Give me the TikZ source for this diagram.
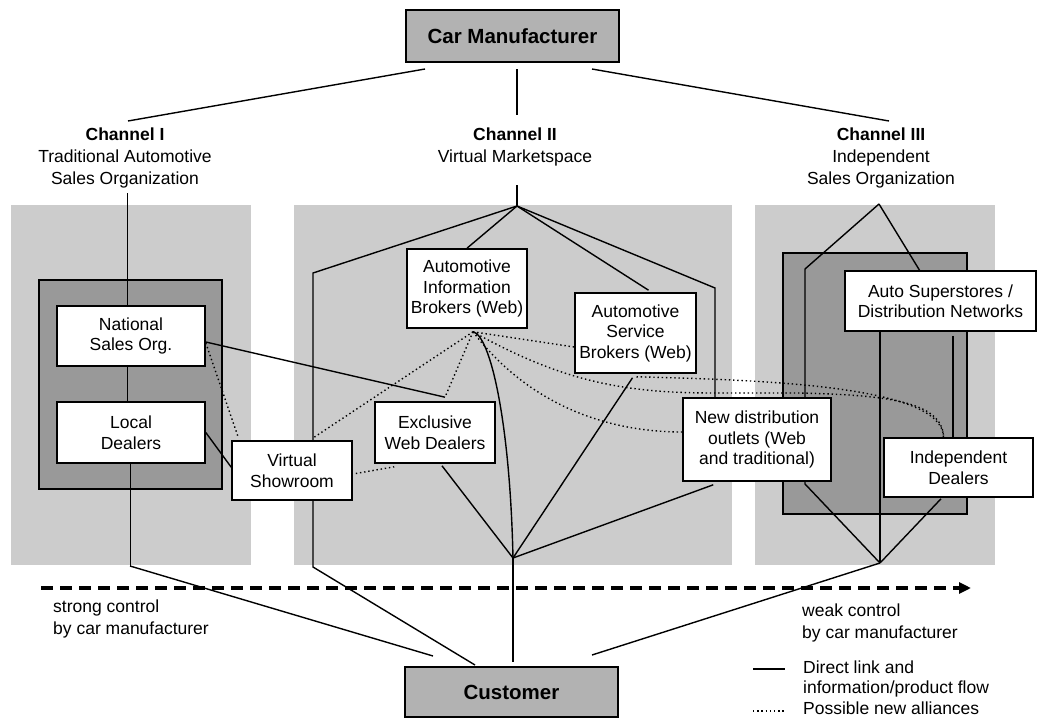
\documentclass[tikz,border=0pt]{standalone}
\usepackage{fontspec}
\setmainfont{Liberation Sans}
\usetikzlibrary{calc,arrows.meta}
\tikzset{>=stealth,
  panel/.style={fill=black!20},
  darkbox/.style={fill=black!40,draw=black,line width=1.6pt},
  box/.style={draw,fill=white,line width=1.6pt,align=center,inner sep=1pt,
    font=\fontsize{17.5}{20.5}\selectfont},
  titlebox/.style={draw,fill=black!30,line width=1.6pt,inner sep=1pt,
    font=\fontsize{20.5}{24}\selectfont\bfseries,minimum width=213pt},
  link/.style={line width=1.4pt},
  thinlink/.style={line width=1pt},
  alliance/.style={line width=1.4pt,dash pattern=on 1.4pt off 2.8pt},
  lbl/.style={align=center,inner sep=0pt,font=\fontsize{17.5}{22}\selectfont}
}

\begin{document}
\begin{tikzpicture}[x=1pt,y=-1pt]
  \useasboundingbox (0,0) rectangle (1037,720);

  \fill[panel] (11,205) rectangle (251,565);
  \fill[panel] (294,205) rectangle (732,565);
  \fill[panel] (755,205) rectangle (995,565);
  \filldraw[darkbox] (39,280) rectangle (222,489);
  \filldraw[darkbox] (783,253) rectangle (967,514);

  \coordinate (m1) at (425,69);  \coordinate (t1) at (128,121);
  \coordinate (m2) at (517,69);  \coordinate (t2) at (517,115);
  \coordinate (m3) at (592,69);  \coordinate (t3) at (889,121);
  \coordinate (c1) at (127,193); \coordinate (l1b) at (130,566);
  \coordinate (c2) at (517,185); \coordinate (h2) at (517,206);
  \coordinate (h2b) at (513,558);
  \coordinate (b2a) at (313,273); \coordinate (b2b) at (313,567);
  \coordinate (b2r) at (715,288);
  \coordinate (h3) at (879,204); \coordinate (h3b) at (880,563);
  \coordinate (b3a) at (805,269); \coordinate (b3b) at (805,484);
  \coordinate (e1) at (433,656); \coordinate (e2) at (475,665);
  \coordinate (e3) at (513,662); \coordinate (e4) at (592,655);

  % lines running behind the boxes
  \draw[link] (h2) -- (b2a) -- (b2b) -- (e2);
  \draw[link] (h3) -- (b3a) -- (b3b) -- (h3b);

  \node[titlebox,minimum height=52pt] (mfr) at (512.5,36) {Car Manufacturer};
  \node[titlebox,minimum height=50pt] (cust) at (511.5,692) {Customer};

  \node[lbl] (ch1) at (125,158) {\textbf{Channel I}\\Traditional Automotive\\Sales Organization};
  \node[lbl] (ch2) at (515,147) {\textbf{Channel II}\\Virtual Marketspace};
  \node[lbl] (ch3) at (881,158) {\textbf{Channel III}\\Independent\\Sales Organization};

  \node[box,minimum width=148pt,minimum height=60pt] (nat) at (131,336) {National\\Sales Org.};
  \node[box,minimum width=148pt,minimum height=61pt] (loc) at (131,432.5) {Local\\Dealers};
  \node[box,minimum width=120pt,minimum height=59pt] (vs) at (292,470.5) {Virtual\\Showroom};
  \node[box,minimum width=120pt,minimum height=79pt] (aib) at (467,288.5) {Automotive\\Information\\Brokers (Web)};
  \node[box,minimum width=120pt,minimum height=61pt] (ewd) at (435,432.5) {Exclusive\\Web Dealers};
  \node[box,minimum width=121pt,minimum height=80pt] (asb) at (635.5,333) {Automotive\\Service\\Brokers (Web)};
  \node[box,minimum width=148pt,minimum height=83pt] (ndo) at (757,439.5) {New distribution\\outlets (Web\\and traditional)};
  \node[box,minimum width=191pt,minimum height=60pt] (asdn) at (940.5,301) {Auto Superstores /\\Distribution Networks};
  \node[box,minimum width=149pt,minimum height=59pt] (ind) at (958.5,467.5) {Independent\\Dealers};

  \coordinate (p) at ($(aib.south)+(6,3)$);
  \coordinate (ewdtop) at ($(ewd.north)+(10,-4)$);
  \coordinate (indt) at ($(ind.north)+(-15,0)$);
  \coordinate (vsd) at (313,438);

  \draw[link] (m1) -- (t1);
  \draw[link] (m2) -- (t2);
  \draw[link] (m3) -- (t3);

  \draw[thinlink] (c1) -- (nat.north -| c1);
  \draw[thinlink] (nat.south -| c1) -- (loc.north -| c1);
  \draw[thinlink] (loc.south -| l1b) -- (l1b);
  \draw[link] (l1b) -- (e1);
  \draw[link] (loc.east) -- ($(vs.north west)+(0,27)$);
  \draw[link] ($(nat.east)+(0,6)$) -- (ewdtop);

  \draw[link] (c2) -- (h2);
  \draw[link] (h2) -- (aib.north);
  \draw[link] (h2) -- ($(asb.north)+(13,-2)$);
  \draw[link] (h2) -- (b2r) -- (ndo.north -| b2r);
  \draw[link] (p) .. controls (490,335) and (510,420) .. (h2b);
  \draw[link] ($(ewd.south)+(7,2)$) -- (h2b);
  \draw[link] ($(asb.south)+(-3,4)$) -- (h2b);
  \draw[link] ($(ndo.south west)+(31,3)$) -- (h2b);
  \draw[link] (h2b) -- (e3);

  \draw[link] (h3) -- ($(asdn.north)+(-21,0)$);
  \draw[link] (asdn.south -| h3b) -- (h3b);
  \draw[link] ($(asdn.south)+(12.5,4)$) -- ($(ind.north)+(-5.5,0)$);
  \draw[link] ($(ind.south)+(-17.5,1)$) -- (h3b);
  \draw[link] (h3b) -- (e4);

  \draw[alliance] ($(nat.east)+(0,7)$) -- ($(vs.north west)+(7,-3)$);
  \draw[alliance] ($(vs.east)+(3,3)$) -- ($(ewd.south west)+(20,3)$);
  \draw[alliance] (p) -- (vsd);
  \draw[alliance] (p) -- (ewdtop);
  \draw[alliance] (p) -- ($(asb.west)+(0,14)$);
  \draw[alliance] (p) .. controls (525,400) and (600,432) .. ($(ndo.west)+(0,-7.5)$);
  \draw[alliance] (p) .. controls (560,380) and (620,393) .. (713,393) -- (800,393)
    .. controls (880,395) and (943,400) .. (indt);
  \draw[alliance] ($(asb.south)+(1,3)$) .. controls (760,380) and (943,385) .. (indt);

  \coordinate (ar1) at (41,588);
  \coordinate (ar2) at (971,588);
  \draw[line width=3.5pt,dash pattern=on 12pt off 7pt,-{Triangle[length=12pt,width=11pt]}] (ar1) -- (ar2);

  \node[lbl,anchor=west,align=left] (strong) at (53,618.5) {strong control\\by car manufacturer};
  \node[lbl,anchor=west,align=left] (weak) at (802,623) {weak control\\by car manufacturer};

  \node[lbl,anchor=west,align=left,font=\fontsize{17.5}{20.5}\selectfont] (leg1) at (803,679) {Direct link and\\information/product flow};
  \node[lbl,anchor=west] (leg2) at (803,708.5) {Possible new alliances};
  \coordinate (ls1) at (753,669); \coordinate (ls2) at (785,669);
  \coordinate (ls3) at (753,711); \coordinate (ls4) at (785,711);
  \draw[link] (ls1) -- (ls2);
  \draw[alliance] (ls3) -- (ls4);
\end{tikzpicture}
\end{document}
